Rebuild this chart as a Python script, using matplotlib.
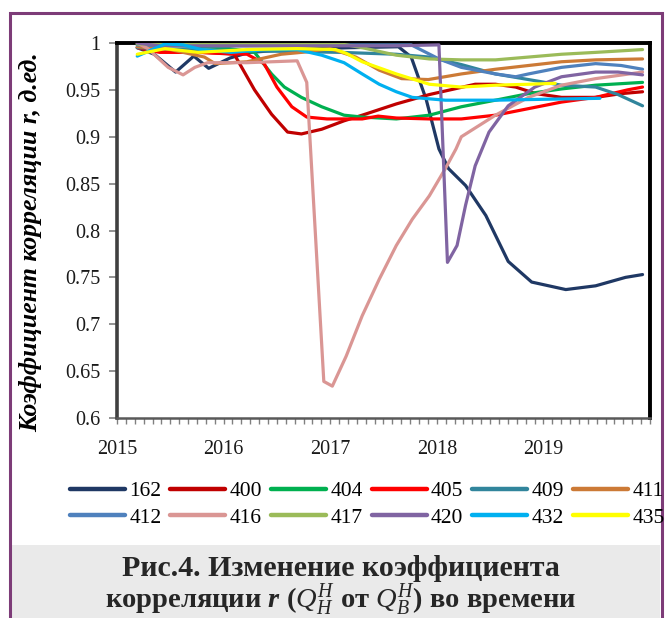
import matplotlib
matplotlib.use("Agg")
import matplotlib.pyplot as plt
from matplotlib.patches import Rectangle
from matplotlib.lines import Line2D
import numpy as np

plt.rcParams['font.family'] = ['Liberation Serif', 'DejaVu Serif']
plt.rcParams['mathtext.fontset'] = 'custom'
plt.rcParams['mathtext.rm'] = 'Liberation Serif'
plt.rcParams['mathtext.it'] = 'Liberation Serif:italic'
plt.rcParams['mathtext.bf'] = 'Liberation Serif:bold'
plt.rcParams['mathtext.bfit'] = 'Liberation Serif:italic:bold'

# ---------------- data (decimal years, correlation r) ----------------
t162 = [2015.19, 2015.35, 2015.55, 2015.72, 2015.86, 2016.06, 2016.24, 2016.62, 2017.18, 2017.64, 2017.76,
        2017.90, 2018.02, 2018.11, 2018.27, 2018.46, 2018.67, 2018.89, 2019.21, 2019.49, 2019.77, 2019.93]
v162 = [0.995, 0.988, 0.969, 0.986, 0.973, 0.984, 0.990, 0.993, 0.995, 0.996, 0.985,
        0.940, 0.887, 0.866, 0.848, 0.816, 0.767, 0.745, 0.737, 0.741, 0.750, 0.753]

t400 = [2015.19, 2015.45, 2015.80, 2016.10, 2016.17, 2016.29, 2016.45, 2016.60, 2016.73, 2016.92, 2017.13,
        2017.30, 2017.62, 2017.93, 2018.36, 2018.55, 2018.74, 2018.93, 2019.17, 2019.49, 2019.73, 2019.93]
v400 = [0.999, 0.992, 0.990, 0.988, 0.974, 0.950, 0.924, 0.905, 0.903, 0.908, 0.917,
        0.923, 0.935, 0.945, 0.956, 0.956, 0.953, 0.946, 0.942, 0.942, 0.946, 0.948]

t404 = [2015.19, 2015.60, 2016.00, 2016.29, 2016.45, 2016.57, 2016.73, 2016.92, 2017.13, 2017.30, 2017.62,
        2017.93, 2018.23, 2018.55, 2018.86, 2019.17, 2019.49, 2019.93]
v404 = [0.998, 0.997, 0.995, 0.990, 0.967, 0.953, 0.942, 0.932, 0.923, 0.921, 0.919,
        0.923, 0.932, 0.939, 0.946, 0.951, 0.955, 0.958]

t405 = [2015.19, 2015.40, 2015.76, 2016.22, 2016.38, 2016.50, 2016.64, 2016.78, 2016.97, 2017.13, 2017.30,
        2017.45, 2017.62, 2017.93, 2018.23, 2018.55, 2018.86, 2019.17, 2019.49, 2019.79, 2019.93]
v405 = [0.995, 0.990, 0.990, 0.988, 0.978, 0.953, 0.932, 0.921, 0.919, 0.919, 0.919,
        0.922, 0.920, 0.919, 0.919, 0.923, 0.930, 0.937, 0.942, 0.950, 0.953]

t409 = [2015.19, 2015.60, 2016.10, 2016.60, 2017.10, 2017.62, 2017.93, 2018.23, 2018.55, 2018.86, 2019.17,
        2019.49, 2019.70, 2019.93]
v409 = [0.995, 0.993, 0.992, 0.991, 0.990, 0.988, 0.985, 0.977, 0.967, 0.961, 0.955,
        0.953, 0.945, 0.933]

t411 = [2015.19, 2015.50, 2015.82, 2015.92, 2016.22, 2016.54, 2016.73, 2017.00, 2017.24, 2017.46, 2017.67,
        2017.92, 2018.23, 2018.55, 2018.86, 2019.17, 2019.49, 2019.93]
v411 = [0.996, 0.993, 0.985, 0.978, 0.980, 0.988, 0.990, 0.994, 0.985, 0.971, 0.962,
        0.961, 0.967, 0.972, 0.976, 0.980, 0.982, 0.983]

t412 = [2015.19, 2015.60, 2016.10, 2016.60, 2017.10, 2017.76, 2018.02, 2018.23, 2018.55, 2018.74, 2018.86,
        2019.17, 2019.49, 2019.73, 2019.93]
v412 = [0.998, 0.997, 0.997, 0.997, 0.998, 0.998, 0.983, 0.974, 0.967, 0.964, 0.967,
        0.974, 0.978, 0.976, 0.972]

t416 = [2015.19, 2015.29, 2015.48, 2015.62, 2015.73, 2015.85, 2016.22, 2016.69, 2016.78, 2016.94, 2017.02,
        2017.15, 2017.30, 2017.46, 2017.62, 2017.77, 2017.93, 2018.08, 2018.18, 2018.23, 2018.55, 2018.86,
        2019.17, 2019.49, 2019.93]
v416 = [1.000, 0.994, 0.974, 0.966, 0.974, 0.979, 0.979, 0.981, 0.958, 0.639, 0.634,
        0.666, 0.709, 0.748, 0.784, 0.812, 0.837, 0.866, 0.887, 0.900, 0.923, 0.942,
        0.955, 0.962, 0.969]

t417 = [2015.19, 2015.60, 2016.10, 2016.60, 2017.10, 2017.30, 2017.62, 2017.93, 2018.23, 2018.55, 2018.86,
        2019.17, 2019.49, 2019.93]
v417 = [0.999, 0.999, 0.999, 0.999, 0.999, 0.995, 0.987, 0.983, 0.982, 0.982, 0.985,
        0.988, 0.990, 0.993]

t420 = [2015.19, 2015.40, 2016.10, 2016.60, 2017.10, 2017.60, 2018.02, 2018.10, 2018.19, 2018.27, 2018.36,
        2018.49, 2018.67, 2018.92, 2019.17, 2019.49, 2019.70, 2019.93]
v420 = [1.000, 0.997, 0.997, 0.997, 0.997, 0.997, 0.998, 0.766, 0.784, 0.827, 0.869,
        0.905, 0.933, 0.953, 0.964, 0.969, 0.969, 0.966]

t432 = [2015.19, 2015.45, 2015.62, 2015.79, 2016.07, 2016.38, 2016.69, 2016.92, 2017.13, 2017.30, 2017.46,
        2017.62, 2017.77, 2018.08, 2018.55, 2019.02, 2019.53]
v432 = [0.986, 0.999, 0.998, 0.993, 0.990, 0.993, 0.993, 0.987, 0.979, 0.967, 0.956,
        0.948, 0.942, 0.939, 0.939, 0.940, 0.941]

t435 = [2015.19, 2015.45, 2015.76, 2016.22, 2016.69, 2017.05, 2017.15, 2017.30, 2017.62, 2017.93, 2018.23,
        2018.55, 2018.86, 2019.11]
v435 = [0.988, 0.994, 0.990, 0.993, 0.994, 0.993, 0.989, 0.980, 0.967, 0.956, 0.953,
        0.955, 0.956, 0.957]

names = ['162', '400', '404', '405', '409', '411', '412', '416', '417', '420', '432', '435']
colors = ['#1F3864', '#C00000', '#00B050', '#FF0000', '#31859C', '#CC7A36',
          '#4F81BD', '#DA9694', '#9BBB59', '#8064A2', '#00B0F0', '#FFFF00']
series_t = [t162, t400, t404, t405, t409, t411, t412, t416, t417, t420, t432, t435]
series_v = [v162, v400, v404, v405, v409, v411, v412, v416, v417, v420, v432, v435]

year_ticks = [2015, 2016, 2017, 2018, 2019]
y_ticks = [0.6, 0.65, 0.7, 0.75, 0.8, 0.85, 0.9, 0.95, 1.0]
y_labels = ['0.6', '0.65', '0.7', '0.75', '0.8', '0.85', '0.9', '0.95', '1']

# ---------------- figure ----------------
W, H = 666, 618
fig = plt.figure(figsize=(W / 100, H / 100), dpi=100)
fig.patch.set_facecolor('white')

# caption background and outer frame
fig.add_artist(Rectangle((12 / W, 0), (660 - 12) / W, (H - 545) / H, transform=fig.transFigure,
                         facecolor='#EAEAEA', edgecolor='none', zorder=0))
fig.add_artist(Rectangle((9.5 / W, -0.05), (662 - 9.5) / W, 1.05 - 13 / H, transform=fig.transFigure,
                         facecolor='none', edgecolor='#7D3C78', lw=2.2, zorder=1))

ax = fig.add_axes([117 / W, 1 - 418 / H, 533 / W, 375 / H])
for n, c, tt, vv in zip(names, colors, series_t, series_v):
    ax.plot(tt, vv, color=c, lw=2.3, solid_joinstyle='round', solid_capstyle='round', zorder=3)

ax.set_xlim(2015, 2020)
ax.set_ylim(0.6, 1.0)
ax.set_yticks(y_ticks)
ax.set_yticklabels(y_labels)
ax.set_xticks(year_ticks)
ax.set_xticklabels([str(y) for y in year_ticks])
ax.set_xticks(np.arange(2015, 2020.001, 1 / 12), minor=True)

ax.tick_params(axis='y', which='major', direction='out', length=6, width=1.2, color='#808080',
               labelsize=14.5, pad=6, labelcolor='#1a1a1a')
ax.tick_params(axis='x', which='major', direction='out', length=4, width=1.0, color='#808080',
               labelsize=14.5, pad=12, labelcolor='#1a1a1a')
ax.tick_params(axis='x', which='minor', direction='out', length=4, width=1.0, color='#808080')

for s in ['top', 'right']:
    ax.spines[s].set_color('black')
    ax.spines[s].set_linewidth(2.8)
ax.spines['left'].set_color('#404040')
ax.spines['left'].set_linewidth(2.6)
ax.spines['bottom'].set_color('#595959')
ax.spines['bottom'].set_linewidth(1.8)

# y label
fig.text(31 / W, 1 - 242 / H, 'Коэффициент корреляции r, д.ед.', rotation=90, ha='center', va='center',
         fontsize=18.5, fontweight='bold', fontstyle='italic', color='black')

# legend (row-major order in picture -> column-major for matplotlib)
order = [0, 6, 1, 7, 2, 8, 3, 9, 4, 10, 5, 11]
handles = [Line2D([0], [0], color=colors[i], lw=3.2, solid_capstyle='round') for i in order]
labels = [names[i] for i in order]
fig.legend(handles, labels, ncol=6, loc='upper left', bbox_to_anchor=(70 / W, 1 - 481 / H),
           frameon=False, fontsize=15.5, handlelength=2.55, handletextpad=0.2, columnspacing=0.42,
           borderpad=0, borderaxespad=0, labelspacing=0.3)

# caption
fig.text(341 / W, 1 - 568 / H, 'Рис.4. Изменение коэффициента', ha='center', va='center',
         fontsize=21.5, fontweight='bold', color='#262626')
fig.text(341 / W, 1 - 600 / H, r'корреляции $\mathbfit{r}$ ($Q_H^H$ от $Q_B^H$) во времени',
         ha='center', va='center', fontsize=20.5, fontweight='bold', color='#262626')

fig.savefig('out.png', dpi=100)
